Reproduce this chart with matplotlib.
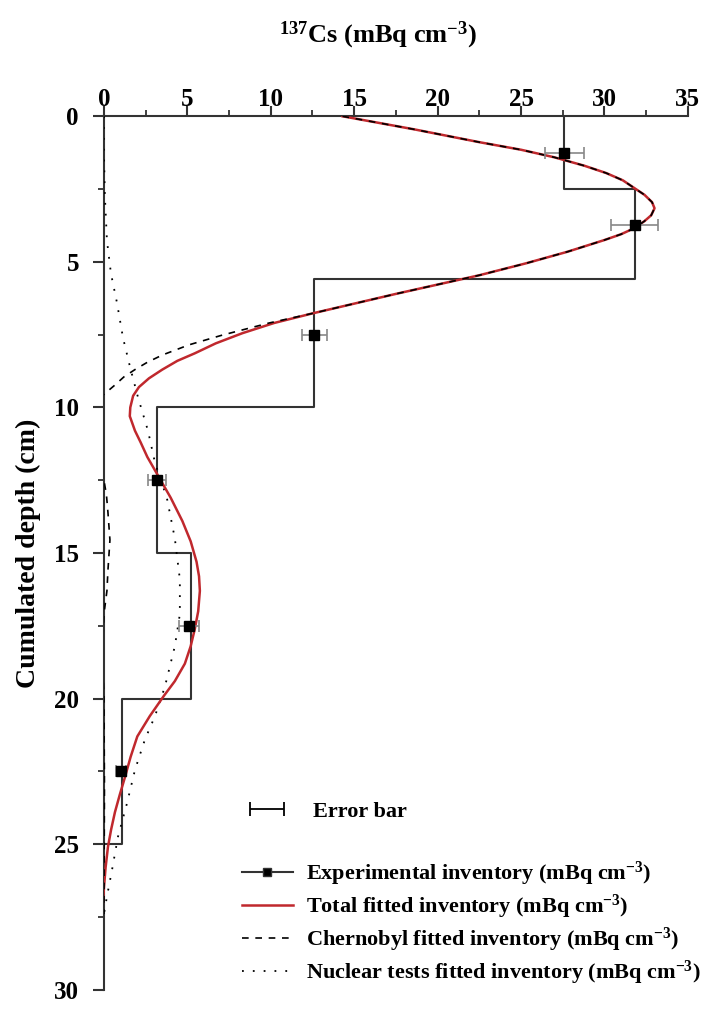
import matplotlib
matplotlib.use("Agg")
import matplotlib.pyplot as plt
import numpy as np
from matplotlib.lines import Line2D
from matplotlib.ticker import MultipleLocator
from matplotlib.legend_handler import HandlerErrorbar

plt.rcParams['font.family'] = 'Liberation Serif'
plt.rcParams['font.weight'] = 'bold'
plt.rcParams['mathtext.default'] = 'regular'

# experimental layers (step profile)
layer_edges = [0, 2.5, 5.6, 10, 15, 20, 25]
layer_values = [27.6, 31.8, 12.6, 3.2, 5.2, 1.1]

# experimental points with errors
exp_depth = [1.25, 3.75, 7.5, 12.5, 17.5, 22.5]
exp_value = [27.6, 31.8, 12.6, 3.2, 5.1, 1.05]
exp_err = [1.15, 1.4, 0.75, 0.55, 0.6, 0.3]

# total fitted inventory
total_depth = [0, 0.45, 0.89, 1.15, 1.41, 1.7, 1.95, 2.2, 2.47, 2.7, 2.95, 3.16, 3.4,
               3.6, 3.84, 4.05, 4.25, 4.45, 4.65, 5.05, 5.46, 6.1, 6.77, 7.1, 7.45, 7.8,
               8.14, 8.4, 8.7, 9.0, 9.3, 9.6, 10.0, 10.3, 10.8, 11.2, 11.7, 12.3, 13.1,
               13.9, 14.6, 15.3, 15.8, 16.3, 17.0, 17.6, 18.2, 18.8, 19.4, 19.9, 20.6,
               21.3, 22.0, 22.7, 23.3, 23.9, 24.5, 25.1, 25.8, 26.5, 27.3]
total_value = [14.3, 18.6, 22.5, 25.0, 27.0, 28.8, 30.1, 31.1, 31.8, 32.4, 32.85, 33.0, 32.8,
               32.4, 31.8, 31.0, 30.0, 28.9, 27.8, 25.3, 22.5, 17.5, 12.5, 10.2, 8.3, 6.7,
               5.45, 4.4, 3.5, 2.7, 2.1, 1.75, 1.58, 1.55, 1.86, 2.2, 2.6, 3.2, 4.0,
               4.7, 5.2, 5.55, 5.7, 5.75, 5.65, 5.45, 5.2, 4.85, 4.25, 3.6, 2.75,
               2.0, 1.6, 1.26, 0.95, 0.66, 0.43, 0.24, 0.1, 0.0, -0.1]

# Chernobyl fitted inventory
cher_depth = [0, 0.45, 0.89, 1.15, 1.41, 1.7, 1.95, 2.2, 2.47, 2.7, 2.95, 3.16, 3.4,
              3.6, 3.84, 4.05, 4.25, 4.45, 4.65, 5.05, 5.46, 6.1, 6.77, 7.1, 7.52, 7.85,
              8.2, 8.45, 8.7, 8.95, 9.23, 9.6, 10.5, 11.5, 12.5, 13.0, 13.6, 14.55,
              15.6, 16.3, 17.1, 18.5, 20.0, 23.0, 27.4]
cher_value = [14.3, 18.6, 22.5, 25.0, 27.0, 28.8, 30.1, 31.1, 31.8, 32.4, 32.85, 33.0, 32.8,
              32.4, 31.8, 31.0, 30.0, 28.9, 27.8, 25.3, 22.5, 17.5, 12.5, 9.9, 7.07, 5.1,
              3.5, 2.6, 1.86, 1.2, 0.66, -0.1, -0.7, -0.4, 0.0, 0.15, 0.24, 0.36,
              0.24, 0.18, 0.0, -0.1, 0.0, 0.03, 0.0]

# nuclear tests fitted inventory
nuc_depth = [0, 1.27, 2.78, 4.26, 5.4, 6.4, 7.6, 8.6, 9.65, 10.8, 11.9, 13.1, 14.5,
             15.9, 17.1, 18.2, 19.6, 20.6, 21.4, 22.45, 23.6, 24.75, 25.9, 26.8, 27.4]
nuc_value = [0.0, 0.0, 0.06, 0.18, 0.42, 0.78, 1.14, 1.56, 2.04, 2.64, 3.06, 3.77, 4.25,
             4.55, 4.55, 4.25, 3.65, 3.06, 2.46, 1.86, 1.38, 0.84, 0.48, 0.18, 0.0]

fig = plt.figure(figsize=(7.07, 10.11), dpi=100)
ax = fig.add_axes([0.147, 0.021, 0.826, 0.864])

# step profile
step_x = [layer_values[0]]
step_y = [layer_edges[0]]
for i, v in enumerate(layer_values):
    step_x += [v, v]
    step_y += [layer_edges[i], layer_edges[i + 1]]
step_x.append(0)
step_y.append(layer_edges[-1])
ax.plot(step_x, step_y, color='#333333', lw=1.5, zorder=2)

ax.plot(nuc_value, nuc_depth, color='black', lw=1.3, ls=(0, (1, 5)), zorder=3)
ax.plot(total_value, total_depth, color='#c0282d', lw=1.8, zorder=4)
ax.plot(cher_value, cher_depth, color='black', lw=1.2, ls=(0, (4, 4)), zorder=4.5)

ax.errorbar(exp_value, exp_depth, xerr=exp_err, fmt='none', ecolor='#888888',
            elinewidth=1.2, capsize=4, capthick=1.2, zorder=5)
ax.plot(exp_value, exp_depth, ls='none', marker='s', color='black', markersize=7, zorder=6)

ax.set_xlim(0, 35)
ax.set_ylim(30, 0)
ax.xaxis.tick_top()
ax.xaxis.set_label_position('top')
ax.spines['right'].set_visible(False)
ax.spines['bottom'].set_visible(False)
for s in ['top', 'left']:
    ax.spines[s].set_linewidth(1.5)
    ax.spines[s].set_color('#333333')

ax.xaxis.set_major_locator(MultipleLocator(5))
ax.xaxis.set_minor_locator(MultipleLocator(2.5))
ax.yaxis.set_major_locator(MultipleLocator(5))
ax.yaxis.set_minor_locator(MultipleLocator(2.5))
ax.tick_params(which='major', length=8, width=1.5, color='#333333', labelsize=18)
ax.tick_params(axis='x', which='major', length=7, pad=-3)
ax.tick_params(axis='y', which='major', pad=10)
ax.tick_params(which='minor', length=4, width=1.3, color='#333333')

ax.set_xlabel('$^{137}$Cs (mBq cm$^{-3}$)', fontsize=19, fontweight='bold')
ax.xaxis.set_label_coords(0.47, 1.085)
ax.set_ylabel('Cumulated depth (cm)', fontsize=20, fontweight='bold')
ax.yaxis.set_label_coords(-0.108, 0.5)

# legends
err_handle = ax.errorbar([np.nan], [np.nan], xerr=[1], fmt='none', ecolor='black',
                         elinewidth=1.3, capsize=5, capthick=1.3)
leg1 = ax.legend([err_handle], ['Error bar'], loc='upper left',
                 bbox_to_anchor=(0.207, 0.239), frameon=False, fontsize=16,
                 handlelength=2.0, handletextpad=1.05,
                 handler_map={type(err_handle): HandlerErrorbar(xerr_size=0.75)})
ax.add_artist(leg1)

handles = [
    Line2D([], [], color='#333333', lw=1.5, marker='s', markersize=6, markerfacecolor='black'),
    Line2D([], [], color='#c0282d', lw=1.8),
    Line2D([], [], color='black', lw=1.2, ls=(0, (4, 4))),
    Line2D([], [], color='black', lw=1.3, ls=(0, (1, 5))),
]
labels = ['Experimental inventory (mBq cm$^{-3}$)',
          'Total fitted inventory (mBq cm$^{-3}$)',
          'Chernobyl fitted inventory (mBq cm$^{-3}$)',
          'Nuclear tests fitted inventory (mBq cm$^{-3}$)']
ax.legend(handles, labels, loc='lower left', bbox_to_anchor=(0.202, -0.02),
          frameon=False, fontsize=16, handlelength=2.3, handletextpad=0.6,
          labelspacing=0.22)

fig.savefig('out.png', dpi=100)
